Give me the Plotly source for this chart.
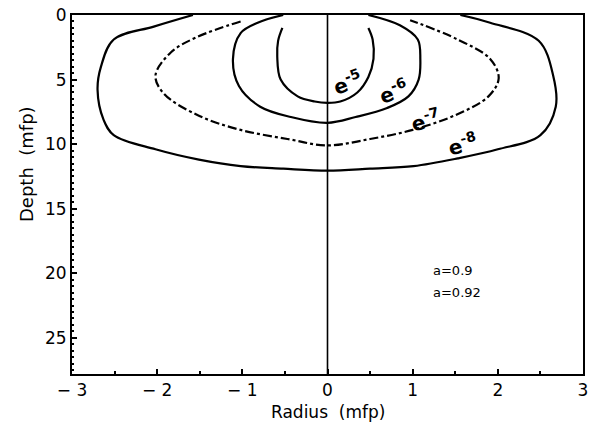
import plotly.graph_objects as go

# Contour e^-8
r8 = [-1.58, -2.04, -2.51, -2.66, -2.70, -2.63, -2.51, -2.02, -1.51, -1.02, -0.52, 0.0,
      0.50, 1.01, 1.53, 2.00, 2.50, 2.68, 2.65, 2.48, 1.91, 1.56]
d8 = [0.0, 0.9, 1.9, 4.0, 5.8, 8.1, 9.3, 10.4, 11.2, 11.7, 11.9, 12.05,
      11.9, 11.7, 11.1, 10.4, 9.3, 7.1, 4.7, 2.0, 0.6, 0.0]
# Contour e^-7
r7 = [-1.02, -1.53, -1.84, -2.02, -1.92, -1.51, -1.02, -0.47, 0.0, 0.50, 1.00, 1.52, 1.89, 2.01, 1.91, 1.53, 0.97]
d7 = [0.5, 1.7, 2.9, 4.7, 6.1, 7.8, 8.9, 9.6, 10.1, 9.6, 8.9, 7.7, 6.3, 4.9, 3.4, 1.9, 0.4]
# Contour e^-6
r6 = [-0.52, -0.82, -1.02, -1.11, -1.04, -0.79, -0.43, 0.0, 0.33, 0.70, 0.95, 1.07, 1.09, 1.06, 0.85, 0.48]
d6 = [0.0, 0.6, 1.4, 3.4, 5.5, 7.1, 7.9, 8.35, 7.9, 7.2, 6.3, 5.0, 3.4, 1.9, 0.8, 0.0]
# Contour e^-5
r5 = [-0.53, -0.58, -0.59, -0.55, -0.35, -0.15, 0.0, 0.15, 0.35, 0.48, 0.54, 0.53, 0.48]
d5 = [1.0, 2.0, 3.2, 5.0, 6.3, 6.7, 6.8, 6.7, 6.0, 4.8, 3.4, 1.9, 1.0]

contours = [(r8, d8, "solid"), (r7, d7, "dashdot"), (r6, d6, "solid"), (r5, d5, "solid")]

label_text = ["e<sup>-5</sup>", "e<sup>-6</sup>", "e<sup>-7</sup>", "e<sup>-8</sup>"]
label_r = [0.24, 0.78, 1.15, 1.58]
label_d = [5.2, 5.9, 8.1, 10.0]
label_rot = [-20, -20, -14, -14]

xticks = [-3, -2, -1, 0, 1, 2, 3]
xticktext = ["\u2212 3", "\u2212 2", "\u2212 1", "0", "1", "2", "3"]
yticks = [0, 5, 10, 15, 20, 25]

fig = go.Figure()
for r, d, dash in contours:
    fig.add_trace(go.Scatter(x=r, y=d, mode="lines",
                             line=dict(color="black", width=2.2, dash=dash, shape="spline", smoothing=1.0),
                             showlegend=False, hoverinfo="skip"))
# center vertical line
fig.add_trace(go.Scatter(x=[0, 0], y=[0, 27.8], mode="lines", line=dict(color="black", width=1.6),
                         showlegend=False, hoverinfo="skip"))

for t, x, y, a in zip(label_text, label_r, label_d, label_rot):
    fig.add_annotation(x=x, y=y, text="<b>" + t + "</b>", showarrow=False, textangle=a,
                       font=dict(family="DejaVu Sans", size=20, color="black"))

fig.add_annotation(x=1.22, y=19.8, text="a=0.9", showarrow=False, xanchor="left",
                   font=dict(family="DejaVu Sans", size=13, color="black"))
fig.add_annotation(x=1.22, y=21.5, text="a=0.92", showarrow=False, xanchor="left",
                   font=dict(family="DejaVu Sans", size=13, color="black"))

# axis titles
fig.add_annotation(x=-0.088, y=0.585, xref="paper", yref="paper", text="Depth  (mfp)", showarrow=False,
                   xanchor="center", yanchor="middle", textangle=-90,
                   font=dict(family="DejaVu Sans", size=18, color="black"))
fig.add_annotation(x=0.5, y=-0.106, xref="paper", yref="paper", text="Radius  (mfp)", showarrow=False,
                   xanchor="center", yanchor="middle", font=dict(family="DejaVu Sans", size=17, color="black"))

axis_font = dict(family="DejaVu Sans", size=17, color="black")
fig.update_xaxes(range=[-3, 3], tickvals=xticks, ticktext=xticktext,
                 ticks="inside", ticklen=5, tickwidth=1.5, tickcolor="black",
                 minor=dict(dtick=0.5, ticks="inside", ticklen=3, tickcolor="black"),
                 showline=True, linecolor="black", linewidth=2, mirror=True, showgrid=False, zeroline=False,
                 tickfont=axis_font, automargin=False)
fig.update_yaxes(range=[27.8, 0], tickvals=yticks, ticks="inside", ticklen=5, tickwidth=1.5, tickcolor="black",
                 minor=dict(dtick=0.5, ticks="inside", ticklen=2, tickcolor="black"),
                 showline=True, linecolor="black", linewidth=2, mirror=True, showgrid=False, zeroline=False,
                 tickfont=axis_font, automargin=False)
fig.update_layout(width=594, height=423, margin=dict(l=72, r=11, t=15, b=49),
                  plot_bgcolor="white", paper_bgcolor="white")
fig.write_html("out.html", config={"displayModeBar": False},
               post_script="document.body.style.margin='0';document.body.style.overflow='hidden';")
